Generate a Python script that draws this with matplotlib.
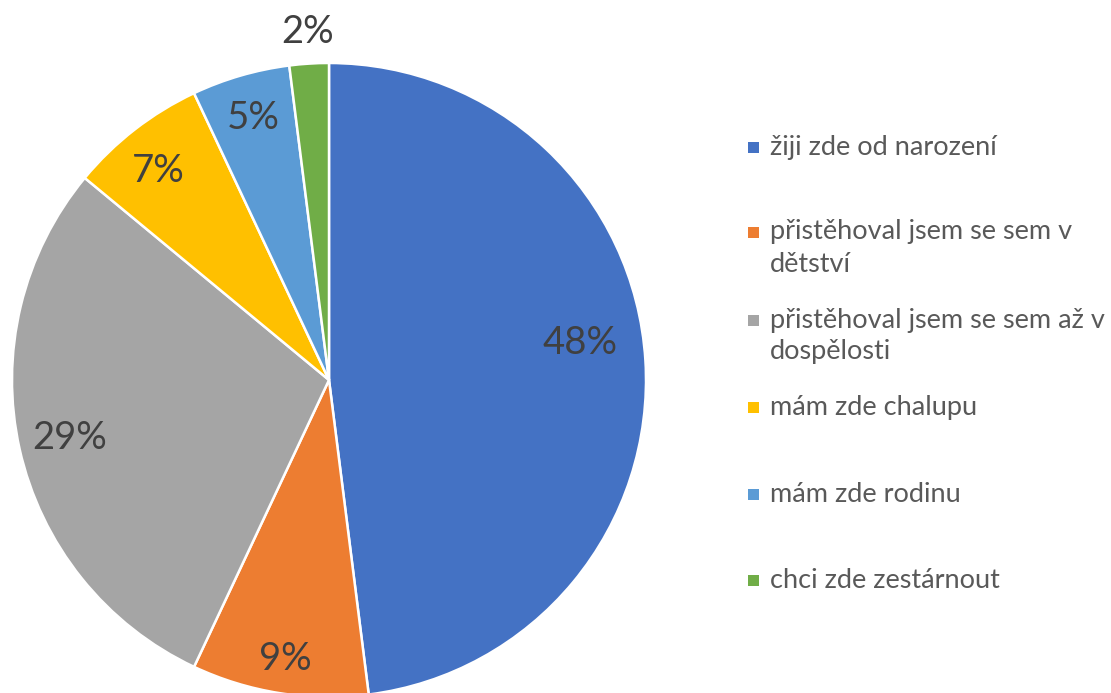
import matplotlib.pyplot as plt
import numpy as np
from matplotlib.patches import Rectangle

plt.rcParams['font.family'] = ['Lato', 'DejaVu Sans']

# answers (Czech) and shares in percent
categories = ['žiji zde od narození',
              'přistěhoval jsem se sem v dětství',
              'přistěhoval jsem se sem až v dospělosti',
              'mám zde chalupu',
              'mám zde rodinu',
              'chci zde zestárnout']
# same labels, wrapped the way the legend shows them
legend_lines = [['žiji zde od narození'],
                ['přistěhoval jsem se sem v', 'dětství'],
                ['přistěhoval jsem se sem až v', 'dospělosti'],
                ['mám zde chalupu'],
                ['mám zde rodinu'],
                ['chci zde zestárnout']]
shares = [48, 9, 29, 7, 5, 2]
colors = ['#4472C4', '#ED7D31', '#A5A5A5', '#FFC000', '#5B9BD5', '#70AD47']
# where each percent label sits: fraction of radius, and turn off the slice middle (deg)
label_dist = [0.80, 0.89, 0.84, 0.85, 0.86, 1.10]
label_turn = [4.8, 0, 0, 1.5, 0, 0]

W, H = 1111, 693
fig = plt.figure(figsize=(W / 100, H / 100), dpi=100)

cx, cy, R = 329, 380, 317
ax = fig.add_axes([(cx - R) / W, (H - cy - R) / H, 2 * R / W, 2 * R / H])

wedges, _ = ax.pie(shares, colors=colors, startangle=90, counterclock=False,
                   radius=1, wedgeprops=dict(edgecolor='white', linewidth=1.8))
ax.set_xlim(-1, 1)
ax.set_ylim(-1, 1)
ax.set_aspect('auto')
ax.axis('off')

total = sum(shares)
start = 90.0
for val, d, turn in zip(shares, label_dist, label_turn):
    sweep = 360.0 * val / total
    mid = np.deg2rad(start - sweep / 2 + turn)
    ax.text(d * np.cos(mid), d * np.sin(mid), '%d%%' % round(100 * val / total),
            ha='center', va='center', fontsize=27.5, color='#404040', clip_on=False)
    start -= sweep

# legend drawn by hand so the marker sits on the first text line
ys = [147, 232, 320, 407, 494, 580]
sq = 11
line_gap = 32
for lines, col, y in zip(legend_lines, colors, ys):
    fig.patches.append(Rectangle((748 / W, (H - y - sq / 2) / H), sq / W, sq / H,
                                 transform=fig.transFigure, facecolor=col,
                                 edgecolor='none'))
    for k, txt in enumerate(lines):
        fig.text(770 / W, (H - y - k * line_gap) / H, txt, ha='left', va='center',
                 fontsize=19.5, color='#595959')

fig.savefig('out.png', dpi=100)
